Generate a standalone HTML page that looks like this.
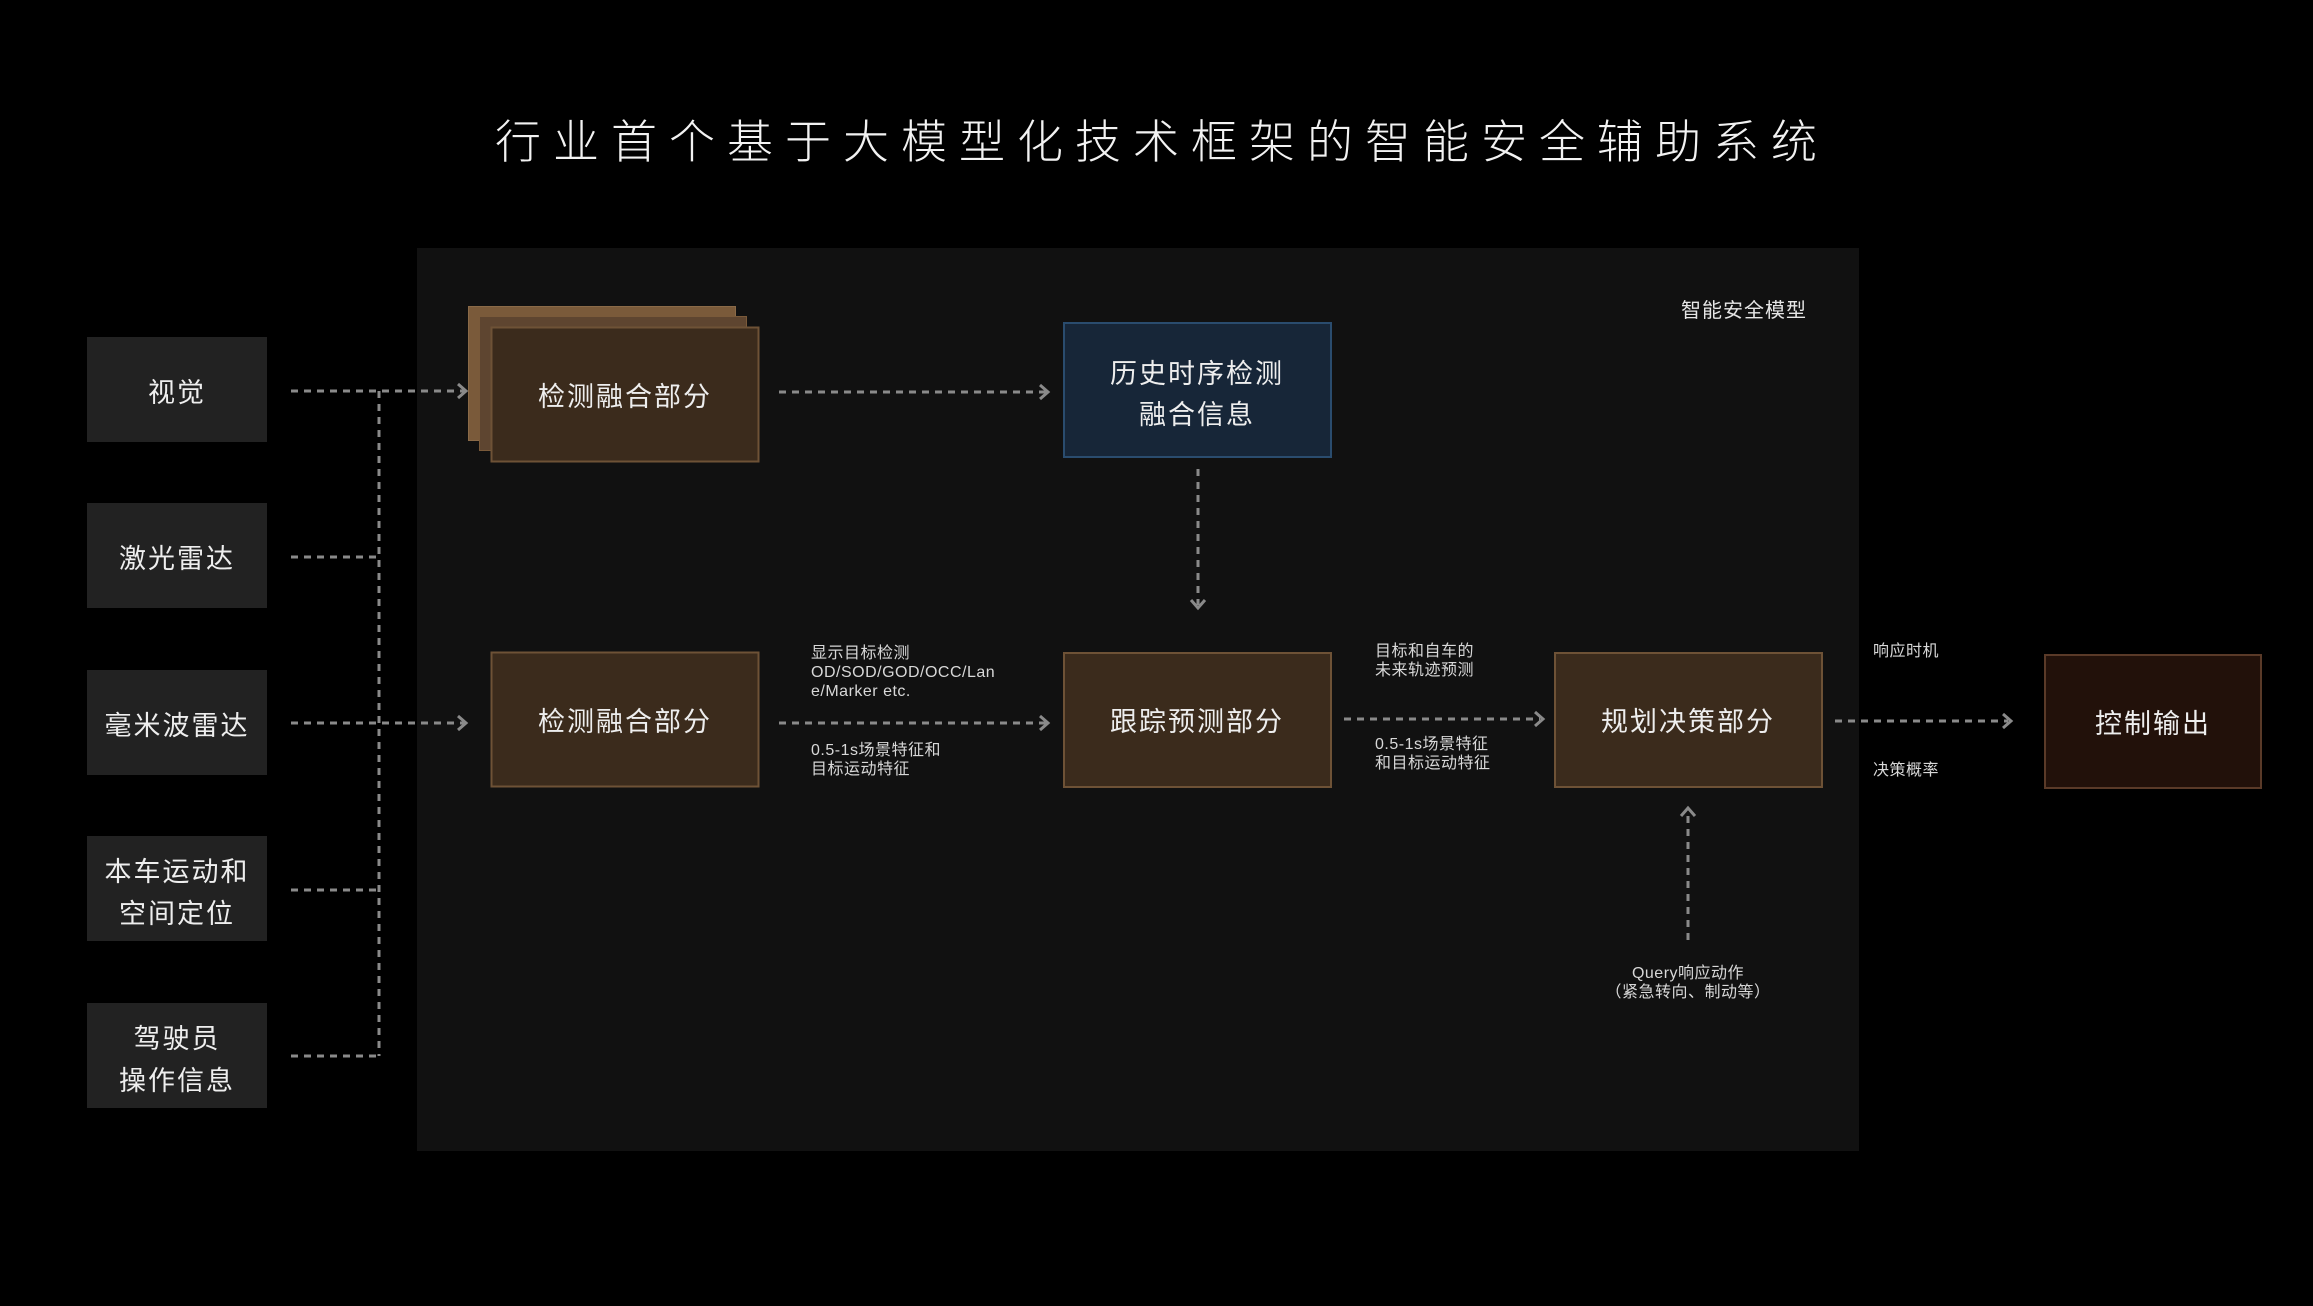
<!DOCTYPE html>
<html><head><meta charset="utf-8"><style>
html,body{margin:0;padding:0;background:#000;}
body{width:2313px;height:1301px;overflow:hidden;}
svg text{font-family:"Liberation Sans","Noto Sans CJK SC",sans-serif;}
</style></head><body>
<svg width="2313" height="1301" viewBox="0 0 2313 1301" xmlns="http://www.w3.org/2000/svg">
<rect width="2313" height="1301" fill="#000"/>
<text x="1162" y="158" text-anchor="middle" fill="#f2f2f2" font-size="46" font-weight="300" letter-spacing="12" style="font-family:'Noto Sans CJK SC',sans-serif">行业首个基于大模型化技术框架的智能安全辅助系统</text>
<rect x="417" y="248" width="1442" height="903" fill="#111"/>
<text x="1807" y="317" text-anchor="end" fill="#e6e6e6" font-size="20" letter-spacing="1">智能安全模型</text>

<g fill="#222">
<rect x="87" y="337" width="180" height="105"/>
<rect x="87" y="503" width="180" height="105"/>
<rect x="87" y="670" width="180" height="105"/>
<rect x="87" y="836" width="180" height="105"/>
<rect x="87" y="1003" width="180" height="105"/>
</g>
<g fill="#eee" font-size="27" text-anchor="middle" letter-spacing="2">
<text x="177" y="402">视觉</text>
<text x="177" y="568">激光雷达</text>
<text x="177" y="735">毫米波雷达</text>
<text x="177" y="881">本车运动和</text>
<text x="177" y="923">空间定位</text>
<text x="177" y="1048">驾驶员</text>
<text x="177" y="1090">操作信息</text>
</g>

<rect x="468.5" y="306.5" width="267" height="134" fill="#7a5a3a" stroke="#8a6a48"/>
<rect x="479.5" y="316.5" width="267" height="134" fill="#5e4530" stroke="#7a5a3a"/>
<rect x="491.5" y="327.5" width="267" height="134" fill="#3b2b1c" stroke="#6e5236" stroke-width="2"/>
<rect x="491.5" y="652.5" width="267" height="134" fill="#3b2b1c" stroke="#6e5236" stroke-width="2"/>
<rect x="1064" y="323" width="267" height="134" fill="#172638" stroke="#2a4c6e" stroke-width="2"/>
<rect x="1064" y="653" width="267" height="134" fill="#3b2b1c" stroke="#6e5236" stroke-width="2"/>
<rect x="1555" y="653" width="267" height="134" fill="#3b2b1c" stroke="#6e5236" stroke-width="2"/>
<rect x="2045" y="655" width="216" height="133" fill="#22110a" stroke="#5a3a28" stroke-width="2"/>

<g fill="#eee" font-size="27" text-anchor="middle" letter-spacing="2">
<text x="625" y="406">检测融合部分</text>
<text x="625" y="731">检测融合部分</text>
<text x="1197" y="383">历史时序检测</text>
<text x="1197" y="424">融合信息</text>
<text x="1197" y="731">跟踪预测部分</text>
<text x="1688" y="731">规划决策部分</text>
<text x="2153" y="733">控制输出</text>
</g>

<g stroke="#8a8a8a" stroke-width="3" stroke-dasharray="7 6" fill="none">
<path d="M291 391H465"/>
<path d="M291 557H379"/>
<path d="M291 723H465"/>
<path d="M291 890H379"/>
<path d="M291 1056H379"/>
<path d="M379 391V1056"/>
<path d="M779 392H1046"/>
<path d="M779 723H1046"/>
<path d="M1344 719H1540"/>
<path d="M1835 721H2008"/>
<path d="M1198 469V605"/>
<path d="M1688 940V812"/>
</g>
<g stroke="#8a8a8a" stroke-width="3" fill="none">
<path d="M458 384L466 391L458 398"/>
<path d="M458 716L466 723L458 730"/>
<path d="M1040 385L1048 392L1040 399"/>
<path d="M1040 716L1048 723L1040 730"/>
<path d="M1535 712L1543 719L1535 726"/>
<path d="M2003 714L2011 721L2003 728"/>
<path d="M1191 600L1198 608L1205 600"/>
<path d="M1681 816L1688 808L1695 816"/>
</g>

<g fill="#d8d8d8" font-size="16" letter-spacing="0.5">
<text x="811" y="658">显示目标检测</text>
<text x="811" y="677">OD/SOD/GOD/OCC/Lan</text>
<text x="811" y="696">e/Marker etc.</text>
<text x="811" y="755">0.5-1s场景特征和</text>
<text x="811" y="774">目标运动特征</text>
<text x="1375" y="656">目标和自车的</text>
<text x="1375" y="675">未来轨迹预测</text>
<text x="1375" y="749">0.5-1s场景特征</text>
<text x="1375" y="768">和目标运动特征</text>
<text x="1873" y="656">响应时机</text>
<text x="1873" y="775">决策概率</text>
<text x="1688" y="978" text-anchor="middle">Query响应动作</text>
<text x="1688" y="997" text-anchor="middle">（紧急转向、制动等）</text>
</g>
</svg>
</body></html>
